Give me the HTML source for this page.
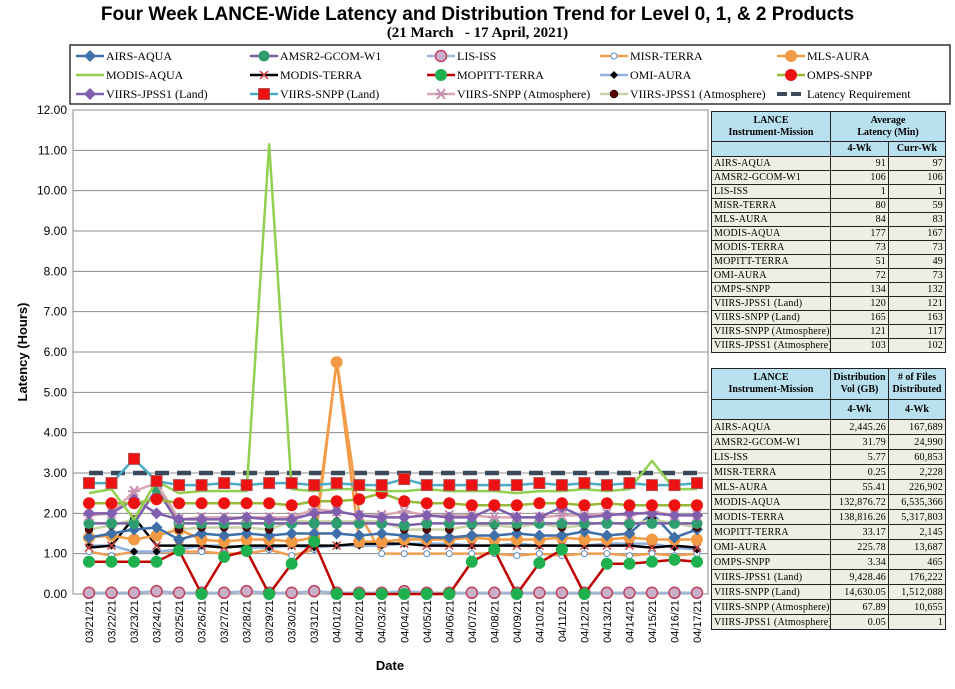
<!DOCTYPE html>
<html><head><meta charset="utf-8">
<style>
body{margin:0;background:#fff;width:955px;height:689px;overflow:hidden;position:relative;font-family:"Liberation Serif",serif}
#title{position:absolute;left:0;width:955px;top:5px;text-align:center;font:bold 19px "Liberation Sans",sans-serif;line-height:20px}
#sub{position:absolute;left:0;width:955px;top:25px;text-align:center;font:bold 15px "Liberation Serif",serif;line-height:16px}
table{position:absolute;border-collapse:collapse;table-layout:fixed;font-family:"Liberation Serif",serif;font-size:10px}
td{border:1.5px solid #222;padding:0 2px;background:#eeeee2;line-height:11px;white-space:nowrap;overflow:hidden;letter-spacing:0.2px}
td.n{text-align:right}
th{border:1.5px solid #222;background:#b8e0ee;font-size:10px;font-weight:bold;line-height:12px;padding:0 2px;overflow:hidden;white-space:nowrap}
#t1 td{height:13px}
#t2 td{height:14px}
</style></head><body>
<div id="title">Four Week LANCE-Wide Latency and Distribution Trend for Level 0, 1, &amp; 2 Products</div>
<div id="sub">(21 March &nbsp; - 17 April, 2021)</div>
<svg id="chart" width="955" height="689" style="position:absolute;left:0;top:0"></svg>

<table id="t1" style="left:711px;top:111px;width:234px">
<colgroup><col style="width:119px"><col style="width:58px"><col style="width:57px"></colgroup>
<tr><th style="height:29px">LANCE<br>Instrument-Mission</th><th colspan="2">Average<br>Latency (Min)</th></tr>
<tr><th style="height:14px"></th><th>4-Wk</th><th>Curr-Wk</th></tr>
<tr><td>AIRS-AQUA</td><td class="n">91</td><td class="n">97</td></tr>
<tr><td>AMSR2-GCOM-W1</td><td class="n">106</td><td class="n">106</td></tr>
<tr><td>LIS-ISS</td><td class="n">1</td><td class="n">1</td></tr>
<tr><td>MISR-TERRA</td><td class="n">80</td><td class="n">59</td></tr>
<tr><td>MLS-AURA</td><td class="n">84</td><td class="n">83</td></tr>
<tr><td>MODIS-AQUA</td><td class="n">177</td><td class="n">167</td></tr>
<tr><td>MODIS-TERRA</td><td class="n">73</td><td class="n">73</td></tr>
<tr><td>MOPITT-TERRA</td><td class="n">51</td><td class="n">49</td></tr>
<tr><td>OMI-AURA</td><td class="n">72</td><td class="n">73</td></tr>
<tr><td>OMPS-SNPP</td><td class="n">134</td><td class="n">132</td></tr>
<tr><td>VIIRS-JPSS1 (Land)</td><td class="n">120</td><td class="n">121</td></tr>
<tr><td>VIIRS-SNPP (Land)</td><td class="n">165</td><td class="n">163</td></tr>
<tr><td>VIIRS-SNPP (Atmosphere)</td><td class="n">121</td><td class="n">117</td></tr>
<tr><td>VIIRS-JPSS1 (Atmosphere)</td><td class="n">103</td><td class="n">102</td></tr>
</table>

<table id="t2" style="left:711px;top:368px;width:234px">
<colgroup><col style="width:119px"><col style="width:58px"><col style="width:57px"></colgroup>
<tr><th style="height:30px">LANCE<br>Instrument-Mission</th><th>Distribution<br>Vol (GB)</th><th># of Files<br>Distributed</th></tr>
<tr><th style="height:19px"></th><th>4-Wk</th><th>4-Wk</th></tr>
<tr><td>AIRS-AQUA</td><td class="n">2,445.26</td><td class="n">167,689</td></tr>
<tr><td>AMSR2-GCOM-W1</td><td class="n">31.79</td><td class="n">24,990</td></tr>
<tr><td>LIS-ISS</td><td class="n">5.77</td><td class="n">60,853</td></tr>
<tr><td>MISR-TERRA</td><td class="n">0.25</td><td class="n">2,228</td></tr>
<tr><td>MLS-AURA</td><td class="n">55.41</td><td class="n">226,902</td></tr>
<tr><td>MODIS-AQUA</td><td class="n">132,876.72</td><td class="n">6,535,366</td></tr>
<tr><td>MODIS-TERRA</td><td class="n">138,816.26</td><td class="n">5,317,803</td></tr>
<tr><td>MOPITT-TERRA</td><td class="n">33.17</td><td class="n">2,145</td></tr>
<tr><td>OMI-AURA</td><td class="n">225.78</td><td class="n">13,687</td></tr>
<tr><td>OMPS-SNPP</td><td class="n">3.34</td><td class="n">465</td></tr>
<tr><td>VIIRS-JPSS1 (Land)</td><td class="n">9,428.46</td><td class="n">176,222</td></tr>
<tr><td>VIIRS-SNPP (Land)</td><td class="n">14,630.05</td><td class="n">1,512,088</td></tr>
<tr><td>VIIRS-SNPP (Atmosphere)</td><td class="n">67.89</td><td class="n">10,655</td></tr>
<tr><td>VIIRS-JPSS1 (Atmosphere)</td><td class="n">0.05</td><td class="n">1</td></tr>
</table>

<script>
const dates=["03/21/21","03/22/21","03/23/21","03/24/21","03/25/21","03/26/21","03/27/21","03/28/21","03/29/21","03/30/21","03/31/21","04/01/21","04/02/21","04/03/21","04/04/21","04/05/21","04/06/21","04/07/21","04/08/21","04/09/21","04/10/21","04/11/21","04/12/21","04/13/21","04/14/21","04/15/21","04/16/21","04/17/21"];
const yTicks=[0,1,2,3,4,5,6,7,8,9,10,11,12];
const latReq=[3,3,3,3,3,3,3,3,3,3,3,3,3,3,3,3,3,3,3,3,3,3,3,3,3,3,3,3];
const lisIss=[0.03,0.03,0.03,0.07,0.03,0.03,0.03,0.07,0.03,0.03,0.07,0.03,0.03,0.03,0.07,0.03,0.03,0.03,0.03,0.03,0.03,0.03,0.03,0.03,0.03,0.03,0.03,0.03];
const mopitt=[0.8,0.8,0.8,0.8,1.08,0,0.92,1.07,0,0.75,1.3,0,0,0,0,0,0,0.8,1.1,0,0.77,1.1,0,0.75,0.75,0.8,0.85,0.8];
const misr=[1.05,0.95,1.05,1.05,1.05,1.05,1.0,1.0,1.1,0.95,1.1,5.8,2.0,1.0,1.0,1.0,1.0,1.0,1.0,0.95,1.0,0.95,1.0,1.0,0.95,1.0,0.95,1.0];
const modisTerra=[1.15,1.2,1.9,1.2,1.2,1.2,1.15,1.2,1.2,1.2,1.2,1.2,1.25,1.25,1.25,1.2,1.2,1.2,1.2,1.2,1.2,1.2,1.2,1.2,1.2,1.15,1.2,1.15];
const omiAura=[1.2,1.2,1.05,1.05,1.1,1.2,1.2,1.15,1.15,1.2,1.15,1.2,1.2,1.2,1.25,1.25,1.25,1.2,1.2,1.25,1.2,1.2,1.2,1.25,1.25,1.25,1.15,1.1];
const mlsAura=[1.4,1.45,1.35,1.45,1.6,1.35,1.3,1.35,1.35,1.3,1.4,5.75,1.3,1.3,1.35,1.35,1.35,1.4,1.35,1.35,1.35,1.4,1.35,1.35,1.4,1.35,1.35,1.35];
const airsAqua=[1.4,1.5,1.6,1.65,1.35,1.5,1.45,1.5,1.45,1.5,1.5,1.5,1.45,1.5,1.45,1.4,1.4,1.45,1.45,1.5,1.45,1.45,1.55,1.45,1.5,2.0,1.4,1.6];
const viirsJ1Atm=[1.6,1.7,1.85,2.8,1.6,1.65,1.65,1.65,1.6,1.8,1.8,1.8,1.8,1.8,1.6,1.6,1.6,1.7,1.7,1.65,1.75,1.65,1.7,1.8,1.7,1.85,1.75,1.65];
const amsr2=[1.75,1.75,1.75,2.6,1.75,1.75,1.75,1.75,1.75,1.75,1.75,1.75,1.75,1.75,1.7,1.75,1.75,1.75,1.75,1.75,1.75,1.75,1.75,1.75,1.75,1.75,1.75,1.75];
const viirsSnppAtm=[1.95,2.0,2.55,2.75,1.85,1.9,1.9,1.9,1.9,1.9,2.1,2.05,1.95,1.95,2.05,1.95,1.95,1.95,1.9,1.9,1.9,1.95,1.95,2.0,1.95,2.05,1.95,1.95];
const viirsJ1Land=[2.0,2.0,2.35,2.0,1.85,1.85,1.85,1.9,1.85,1.85,2.0,2.05,1.95,1.9,1.9,1.95,1.9,1.9,2.15,1.9,1.9,2.15,1.9,1.95,2.0,2.0,1.95,1.95];
const ompsSnpp=[2.25,2.25,2.25,2.35,2.25,2.25,2.25,2.25,2.25,2.2,2.3,2.3,2.35,2.5,2.3,2.25,2.25,2.2,2.2,2.2,2.25,2.25,2.2,2.25,2.2,2.2,2.2,2.2];
const modisAqua=[2.5,2.6,1.85,2.8,2.5,2.55,2.55,2.55,11.15,2.6,2.55,2.6,2.6,2.55,2.55,2.6,2.55,2.55,2.55,2.5,2.55,2.55,2.6,2.55,2.6,3.3,2.6,2.6];
const viirsSnppLand=[2.75,2.75,3.35,2.8,2.7,2.7,2.75,2.7,2.75,2.75,2.7,2.75,2.7,2.7,2.85,2.7,2.7,2.7,2.7,2.7,2.75,2.7,2.75,2.7,2.75,2.7,2.7,2.75];

const NS="http://www.w3.org/2000/svg";
const svg=document.getElementById('chart');
const X0=89,X1=697,Y0=594,Y12=110;
function xs(i){return X0+(X1-X0)*i/(dates.length-1);}
function ys(v){return Y0-(Y0-Y12)*v/12;}
function mk(t,a,p){const e=document.createElementNS(NS,t);for(const k in a)e.setAttribute(k,a[k]);(p||svg).appendChild(e);return e;}

const frame=mk('rect',{x:73,y:110,width:635,height:484,fill:'none',stroke:'#888','stroke-width':1});


yTicks.forEach(v=>{
  const g=mk('line',{x1:73,x2:708,y1:ys(v),y2:ys(v),stroke:'#8c8c8c','stroke-width':1});
  
  
  const t=mk('text',{x:67,y:ys(v)+4,'text-anchor':'end','font-size':12,'font-family':'Liberation Sans, sans-serif'});
  t.textContent=v.toFixed(2);
  
  
});
dates.forEach((d,i)=>{
  const t=mk('text',{x:0,y:0,'text-anchor':'end','font-size':11,'font-family':'Liberation Sans, sans-serif',transform:`translate(${xs(i)+4},600) rotate(-90)`});
  t.textContent=d;
  
  
});
const yt=mk('text',{x:0,y:0,'text-anchor':'middle','font-size':13,'font-weight':'bold','font-family':'Liberation Sans, sans-serif',transform:'translate(27,352) rotate(-90)'});
yt.textContent='Latency (Hours)';


const xt=mk('text',{x:390,y:670,'text-anchor':'middle','font-size':13,'font-weight':'bold','font-family':'Liberation Sans, sans-serif'});
xt.textContent='Date';



const series=[
 {n:'Latency Requirement',d:latReq,c:'#3a4a5a',m:'dash',dash:'14 8',w:4.5},
 {n:'LIS-ISS',d:lisIss,c:'#9fb8da',m:'circleHollowPink'},
 {n:'MISR-TERRA',d:misr,c:'#f0a050',m:'circleHollow'},
 {n:'OMI-AURA',d:omiAura,c:'#8fb2e0',m:'diamondBlack'},
 {n:'MODIS-TERRA',d:modisTerra,c:'#000',m:'x'},
 {n:'MLS-AURA',d:mlsAura,c:'#f39a45',m:'circleOrange'},
 {n:'AIRS-AQUA',d:airsAqua,c:'#3f6fa8',m:'diamondBlue'},
 {n:'VIIRS-JPSS1 (Atmosphere)',d:viirsJ1Atm,c:'#c8d4a8',m:'dotDark'},
 {n:'AMSR2-GCOM-W1',d:amsr2,c:'#7a5fa6',m:'circleTeal'},
 {n:'VIIRS-SNPP (Atmosphere)',d:viirsSnppAtm,c:'#d9a8b0',m:'star'},
 {n:'VIIRS-JPSS1 (Land)',d:viirsJ1Land,c:'#7f5fae',m:'diamondPurple'},
 {n:'OMPS-SNPP',d:ompsSnpp,c:'#98b83a',m:'circleRed'},
 {n:'MODIS-AQUA',d:modisAqua,c:'#92d050',m:'none'},
 {n:'VIIRS-SNPP (Land)',d:viirsSnppLand,c:'#4bacc6',m:'square'},
 {n:'MOPITT-TERRA',d:mopitt,c:'#c00000',m:'circleGreen'}
];
function marker(m,x,y,g){
  if(m==='circleHollowPink')mk('circle',{cx:x,cy:y,r:5.5,fill:'#c8b0c8',stroke:'#c04060','stroke-width':1.5},g);
  else if(m==='circleHollow')mk('circle',{cx:x,cy:y,r:3,fill:'#fff',stroke:'#5b8cc8','stroke-width':1},g);
  else if(m==='diamondBlack')mk('polygon',{points:`${x},${y-4} ${x+4},${y} ${x},${y+4} ${x-4},${y}`,fill:'#000'},g);
  else if(m==='x'){mk('path',{d:`M${x-4} ${y-4}L${x+4} ${y+4}M${x+4} ${y-4}L${x-4} ${y+4}`,stroke:'#d04040','stroke-width':1.5},g);}
  else if(m==='circleOrange')mk('circle',{cx:x,cy:y,r:6,fill:'#f39a45'},g);
  else if(m==='diamondBlue')mk('polygon',{points:`${x},${y-6} ${x+6},${y} ${x},${y+6} ${x-6},${y}`,fill:'#3f6fa8'},g);
  else if(m==='dotDark')mk('circle',{cx:x,cy:y,r:4,fill:'#5a0000',stroke:'#000','stroke-width':0.5},g);
  else if(m==='circleTeal')mk('circle',{cx:x,cy:y,r:5.5,fill:'#2e9e70'},g);
  else if(m==='star'){mk('path',{d:`M${x-6} ${y}L${x+6} ${y}M${x-4} ${y-5}L${x+4} ${y+5}M${x+4} ${y-5}L${x-4} ${y+5}`,stroke:'#c890b0','stroke-width':2},g);}
  else if(m==='diamondPurple')mk('polygon',{points:`${x},${y-6} ${x+6},${y} ${x},${y+6} ${x-6},${y}`,fill:'#7f5fae'},g);
  else if(m==='circleRed')mk('circle',{cx:x,cy:y,r:6,fill:'#ee1111'},g);
  else if(m==='square')mk('rect',{x:x-5.5,y:y-5.5,width:11,height:11,fill:'#ee1111',stroke:'#b05050'},g);
  else if(m==='circleGreen')mk('circle',{cx:x,cy:y,r:6,fill:'#1fb050'},g);
}
series.forEach(s=>{
  const g=mk('g',{});
  
  
  const pts=s.d.map((v,i)=>xs(i)+','+ys(v)).join(' ');
  const a={points:pts,fill:'none',stroke:s.c,'stroke-width':s.w||2.5,'stroke-linejoin':'round'};
  if(s.dash)a['stroke-dasharray']=s.dash;
  mk('polyline',a,g);
  if(s.m!=='dash'&&s.m!=='none')s.d.forEach((v,i)=>marker(s.m,xs(i),ys(v),g));
});

const lg=mk('g',{});


mk('rect',{x:70,y:45,width:880,height:59,fill:'#fff',stroke:'#333','stroke-width':1.5},lg);
const legOrder=['AIRS-AQUA','AMSR2-GCOM-W1','LIS-ISS','MISR-TERRA','MLS-AURA','MODIS-AQUA','MODIS-TERRA','MOPITT-TERRA','OMI-AURA','OMPS-SNPP','VIIRS-JPSS1 (Land)','VIIRS-SNPP (Land)','VIIRS-SNPP (Atmosphere)','VIIRS-JPSS1 (Atmosphere)','Latency Requirement'];
const colX=[76,250,427,600,777];
legOrder.forEach((n,k)=>{
  const s=series.find(q=>q.n===n);
  const x=colX[k%5],y=56+Math.floor(k/5)*19;
  const e=mk('g',{},lg);
  
  
  const a={x1:x,x2:x+28,y1:y,y2:y,stroke:s.c,'stroke-width':s.m==='dash'?4:2.5};
  if(s.dash)a['stroke-dasharray']='10 4';
  mk('line',a,e);
  if(s.m!=='dash'&&s.m!=='none')marker(s.m,x+14,y,e);
  const t=mk('text',{x:x+30,y:y+4,'font-size':12,'font-family':'Liberation Serif, serif'},e);
  t.textContent=n;
});
</script>
</body></html>
